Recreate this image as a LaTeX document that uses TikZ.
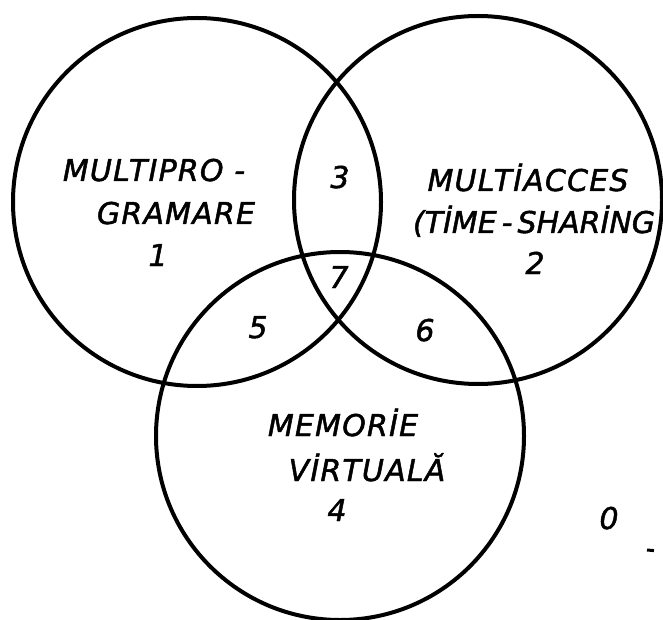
\documentclass[tikz,border=0pt]{standalone}
\usepackage{fontspec}
\newfontfamily\hand{DejaVu Sans}[LetterSpace=4, FakeBold=1.6]
\newfontfamily\handtight{DejaVu Sans}[LetterSpace=0, FakeBold=1.6]
\tikzset{
  setring/.style={circle, draw=black, line width=4pt, minimum size=368pt, inner sep=0pt},
  lettering/.style={font=\hand\itshape\fontsize{30}{30}\selectfont, inner sep=0pt, anchor=base},
  tightletters/.style={lettering, font=\handtight\itshape\fontsize{30}{30}\selectfont},
}
\begin{document}
\begin{tikzpicture}[x=1pt,y=-1pt]
\useasboundingbox (0,0) rectangle (663,620);
% the three sets
\node[setring] (multiprog) at (197,202) {};
\node[setring] (multiacc)  at (478,200) {};
\node[setring] (virtmem)   at (340,436) {};
% set names
\node[lettering] (t1a) at (154,181) {MULTIPRO -};
\node[lettering] (t1b) at (176,224) {GRAMARE};
\node[lettering] (n1)  at (158,266) {1};
\node[lettering] (t2a) at (528,191) {MULTİACCES};
\node[tightletters] (t2b) at (534,233) {(TİME\,-\,SHARİNG};
\node[lettering] (n2)  at (535,274) {2};
\node[lettering] (t4a) at (343,436) {MEMORİE};
\node[lettering] (t4b) at (367,481) {VİRTUALĂ};
\node[lettering] (n4)  at (337,521) {4};
% region numbers
\node[lettering] (n3) at (340,188) {3};
\node[lettering] (n7) at (339,288) {7};
\node[lettering] (n5) at (258,338) {5};
\node[lettering] (n6) at (425,341) {6};
\node[lettering] (n0) at (609,529) {0};
\draw[line width=3pt] (647,550) -- (654,550.6);
\end{tikzpicture}
\end{document}
